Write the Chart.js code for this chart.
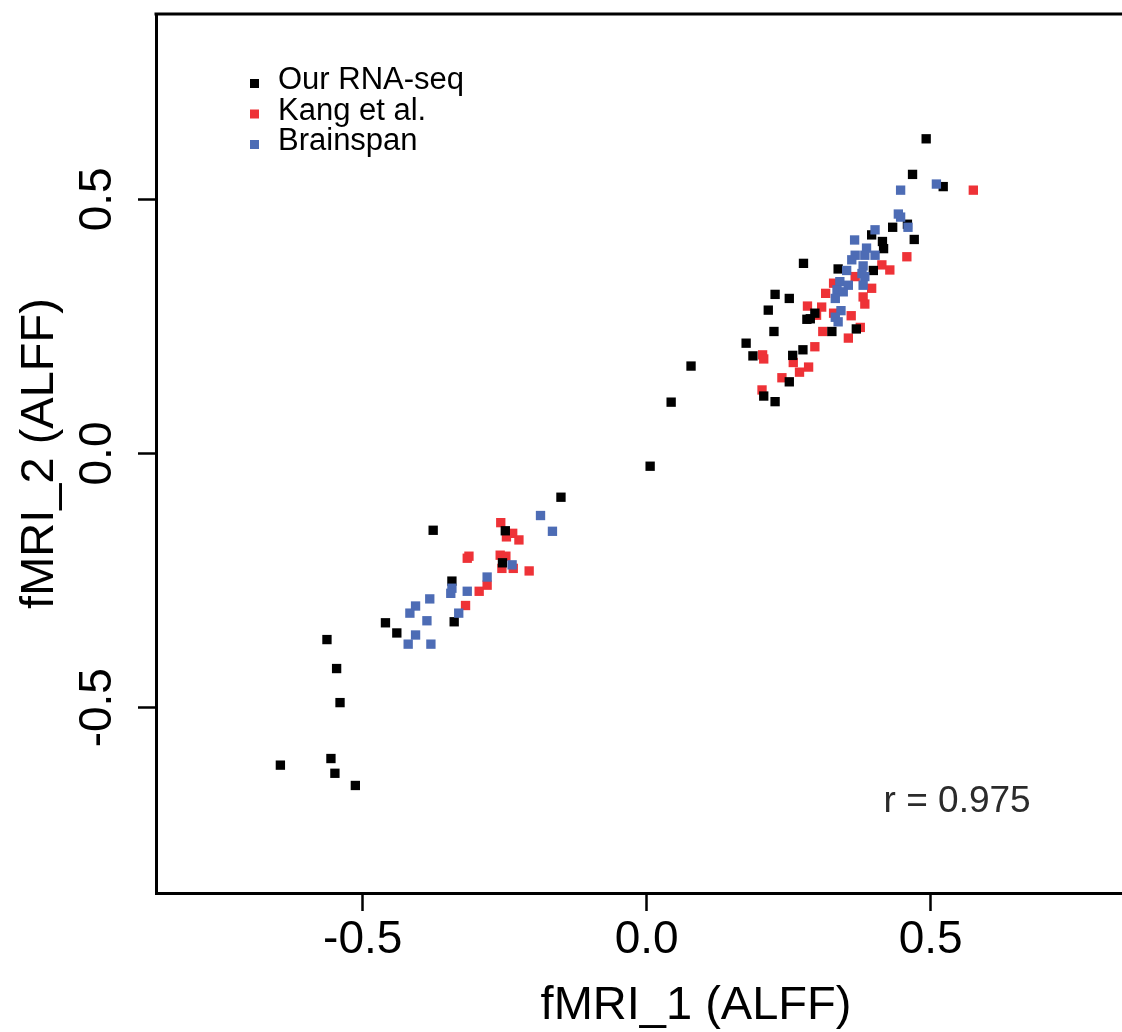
<!DOCTYPE html>
<html>
<head>
<meta charset="utf-8">
<script src="https://cdn.jsdelivr.net/npm/chart.js@4.4.0/dist/chart.umd.min.js"></script>
<style>
  html, body { margin: 0; background: #fff; }
  #ramme { width: 1122px; height: 1032px; overflow: hidden; }
</style>
</head>
<body>
<div id="ramme">
<canvas id="korrelasjon" width="1236" height="1032"></canvas>
</div>
<script>
// Serier
var serieNavn = ["Our RNA-seq", "Kang et al.", "Brainspan"];
var serieFarger = ["#000000", "#ee3237", "#4d6cb5"];

var ourX = [0.492, 0.468, 0.522, 0.459, 0.433, 0.396, 0.471, 0.415, 0.417, 0.276,
  0.337, 0.399, 0.226, 0.251, 0.214, 0.296, 0.288, 0.282, 0.224, 0.326,
  0.369, 0.175, 0.187, 0.257, 0.275, 0.251, 0.206, 0.226, 0.078, 0.043,
  0.006, -0.151, -0.376, -0.249, -0.254, -0.343, -0.339, -0.460, -0.440, -0.563,
  -0.546, -0.540, -0.556, -0.645, -0.549, -0.513];
var ourY = [0.619, 0.549, 0.525, 0.451, 0.445, 0.430, 0.421, 0.417, 0.403, 0.374,
  0.363, 0.360, 0.313, 0.305, 0.282, 0.276, 0.265, 0.264, 0.240, 0.240,
  0.245, 0.217, 0.192, 0.193, 0.204, 0.141, 0.113, 0.102, 0.172, 0.101,
  -0.025, -0.086, -0.151, -0.152, -0.215, -0.251, -0.331, -0.333, -0.353, -0.366,
  -0.423, -0.490, -0.600, -0.613, -0.629, -0.653];

var kangX = [0.575, 0.458, 0.414, 0.428, 0.367, 0.329, 0.396, 0.315, 0.381, 0.384,
  0.283, 0.308, 0.299, 0.329, 0.360, 0.310, 0.376, 0.355, 0.296, 0.204,
  0.206, 0.258, 0.285, 0.269, 0.238, 0.203,
  -0.257, -0.236, -0.247, -0.225, -0.313, -0.316, -0.258, -0.248, -0.255, -0.235,
  -0.207, -0.281, -0.295, -0.319];
var kangY = [0.518, 0.387, 0.371, 0.361, 0.348, 0.335, 0.325, 0.315, 0.308, 0.294,
  0.290, 0.288, 0.272, 0.276, 0.271, 0.240, 0.248, 0.227, 0.210, 0.194,
  0.186, 0.179, 0.170, 0.160, 0.149, 0.125,
  -0.136, -0.157, -0.164, -0.170, -0.202, -0.206, -0.200, -0.202, -0.226, -0.226,
  -0.231, -0.259, -0.271, -0.299];

var brainX = [0.510, 0.447, 0.443, 0.447, 0.460, 0.402, 0.366, 0.387, 0.367, 0.384,
  0.402, 0.361, 0.381, 0.352, 0.379, 0.384, 0.340, 0.355, 0.381, 0.335,
  0.346, 0.332, 0.342, 0.332, 0.337,
  -0.187, -0.166, -0.237, -0.281, -0.343, -0.345, -0.316, -0.382, -0.407, -0.417,
  -0.331, -0.387, -0.407, -0.420, -0.380];
var brainY = [0.530, 0.518, 0.471, 0.465, 0.445, 0.440, 0.420, 0.404, 0.390, 0.390,
  0.390, 0.381, 0.369, 0.360, 0.354, 0.348, 0.338, 0.331, 0.331, 0.322,
  0.318, 0.305, 0.281, 0.268, 0.259,
  -0.122, -0.153, -0.219, -0.243, -0.265, -0.275, -0.271, -0.286, -0.300, -0.314,
  -0.314, -0.329, -0.357, -0.375, -0.375];

// Akser
var xTicks = [-0.5, 0.0, 0.5];
var yTicks = [-0.5, 0.0, 0.5];
var xTittel = "fMRI_1 (ALFF)";
var yTittel = "fMRI_2 (ALFF)";
var rTekst = "r = 0.975";

function punkter(xs, ys) {
  return xs.map(function (x, i) { return { x: x, y: ys[i] }; });
}

// ingen ekstra plass for tekst utenfor plottet
function nullPadding(s) {
  s.paddingTop = 0;
  s.paddingBottom = 0;
  s.paddingLeft = 0;
  s.paddingRight = 0;
}

var fontNavn = "'Liberation Sans', Arial, Helvetica, sans-serif";

// Ramme (topplinje), legende og r-verdi
var rammePlugin = {
  id: "ramme",
  afterDraw: function (chart) {
    var ctx = chart.ctx;
    var a = chart.chartArea;
    ctx.save();
    ctx.strokeStyle = "#000";
    ctx.lineWidth = 3;
    ctx.beginPath();
    ctx.moveTo(a.left - 1.5, a.top);
    ctx.lineTo(chart.width, a.top);
    ctx.stroke();

    // legende
    ctx.font = "31px " + fontNavn;
    ctx.textAlign = "left";
    ctx.textBaseline = "alphabetic";
    chart.data.datasets.forEach(function (ds, i) {
      var cy = 83.5 + i * 30.5;
      ctx.fillStyle = ds.backgroundColor;
      ctx.fillRect(250, cy - 4.5, 9, 9);
      ctx.fillStyle = "#000";
      ctx.fillText(ds.label, 278, cy + 5.5);
    });

    // r-verdi
    var xs = chart.scales.x, ys = chart.scales.y;
    ctx.font = "37px " + fontNavn;
    ctx.fillStyle = "#2b2b2b";
    ctx.fillText(rTekst, xs.getPixelForValue(0.417), ys.getPixelForValue(-0.705));
    ctx.restore();
  }
};

new Chart("korrelasjon", {
  type: "scatter",
  data: {
    datasets: [
      { label: serieNavn[0], data: punkter(ourX, ourY), backgroundColor: serieFarger[0], order: 1 },
      { label: serieNavn[1], data: punkter(kangX, kangY), backgroundColor: serieFarger[1], order: 2 },
      { label: serieNavn[2], data: punkter(brainX, brainY), backgroundColor: serieFarger[2], order: 0 }
    ]
  },
  options: {
    responsive: false,
    animation: false,
    layout: { autoPadding: false, padding: { top: 14, right: 0, left: 0, bottom: 0 } },
    elements: {
      point: { pointStyle: "rect", radius: 6.6, borderWidth: 0, hoverRadius: 6.6 }
    },
    plugins: {
      legend: { display: false },
      tooltip: { enabled: false }
    },
    scales: {
      x: {
        type: "linear",
        min: -0.864,
        max: 1.0375,
        afterFit: function (s) { s.height = 139; nullPadding(s); },
        afterBuildTicks: function (s) { s.ticks = xTicks.map(function (v) { return { value: v }; }); },
        border: { display: true, color: "#000", width: 3 },
        grid: { drawOnChartArea: false, drawTicks: true, tickLength: 18, tickWidth: 2.5, color: "#000" },
        ticks: {
          color: "#000",
          padding: 2,
          maxRotation: 0,
          font: { family: fontNavn, size: 46 },
          callback: function (v) { return Number(v).toFixed(1); }
        },
        title: {
          display: true,
          text: xTittel,
          color: "#000",
          font: { family: fontNavn, size: 47, lineHeight: 1.1 },
          padding: { top: 0, bottom: 0 }
        }
      },
      y: {
        type: "linear",
        min: -0.8645,
        max: 0.8645,
        afterFit: function (s) { s.width = 156; nullPadding(s); },
        afterBuildTicks: function (s) { s.ticks = yTicks.map(function (v) { return { value: v }; }); },
        border: { display: true, color: "#000", width: 3 },
        grid: { drawOnChartArea: false, drawTicks: true, tickLength: 18, tickWidth: 2.5, color: "#000" },
        ticks: {
          color: "#000",
          padding: 0,
          minRotation: 90,
          maxRotation: 90,
          crossAlign: "center",
          font: { family: fontNavn, size: 46 },
          callback: function (v) { return Number(v).toFixed(1); }
        },
        title: {
          display: true,
          text: yTittel,
          color: "#000",
          font: { family: fontNavn, size: 47, lineHeight: 1.1 },
          padding: { top: 14, bottom: 0 }
        }
      }
    }
  },
  plugins: [rammePlugin]
});
</script>
</body>
</html>
